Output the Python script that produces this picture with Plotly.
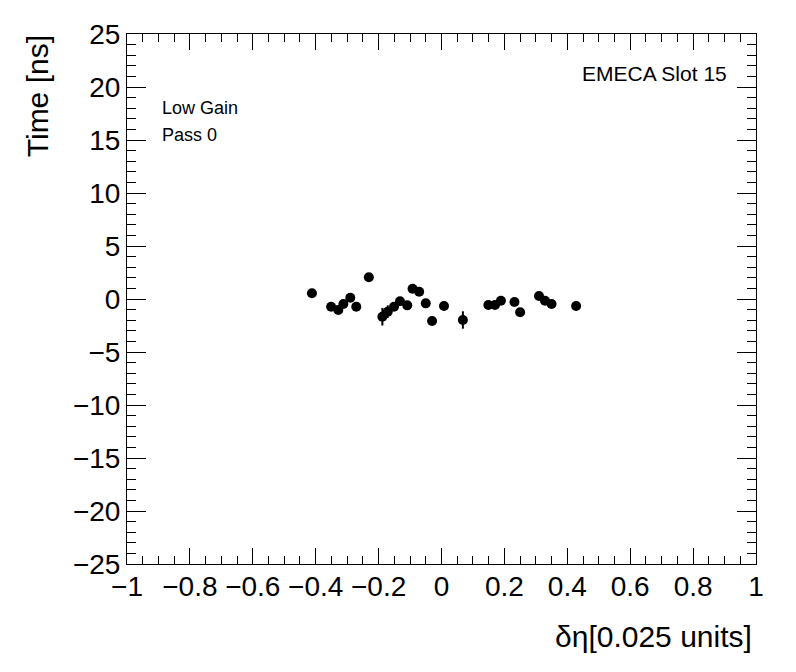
import plotly.graph_objects as go

deta = [-0.412, -0.351, -0.328, -0.312, -0.290, -0.271, -0.231, -0.188, -0.171,
        -0.151, -0.132, -0.109, -0.092, -0.071, -0.050, -0.030, 0.008, 0.068,
        0.149, 0.170, 0.189, 0.232, 0.250, 0.310, 0.329, 0.350, 0.428]
time_ns = [0.54, -0.73, -1.04, -0.47, 0.12, -0.73, 2.05, -1.67, -1.20,
           -0.73, -0.22, -0.60, 0.97, 0.69, -0.41, -2.08, -0.66, -1.98,
           -0.57, -0.57, -0.16, -0.28, -1.25, 0.28, -0.16, -0.47, -0.66]
time_err = [0.3, 0.3, 0.3, 0.3, 0.3, 0.3, 0.3, 0.83, 0.6,
            0.3, 0.3, 0.3, 0.3, 0.3, 0.3, 0.3, 0.3, 0.82,
            0.3, 0.3, 0.3, 0.3, 0.3, 0.3, 0.3, 0.3, 0.3]

x_ticks = [-1, -0.8, -0.6, -0.4, -0.2, 0, 0.2, 0.4, 0.6, 0.8, 1]
x_labels = ["\u22121", "\u22120.8", "\u22120.6", "\u22120.4", "\u22120.2", "0",
            "0.2", "0.4", "0.6", "0.8", "1"]
y_ticks = [-25, -20, -15, -10, -5, 0, 5, 10, 15, 20, 25]
y_labels = ["\u221225", "\u221220", "\u221215", "\u221210", "\u22125", "0",
            "5", "10", "15", "20", "25"]

FONT = "Liberation Sans, Arial, Helvetica, sans-serif"

fig = go.Figure()
fig.add_trace(go.Scatter(
    x=deta, y=time_ns, mode="markers",
    marker=dict(color="black", size=10),
    error_y=dict(type="data", array=time_err, color="black", thickness=2, width=0),
    showlegend=False,
))

axis_common = dict(
    showgrid=False, zeroline=False, showline=True, linecolor="black", linewidth=1,
    ticks="inside", tickcolor="black", tickwidth=1, mirror="allticks",
    automargin=False,
    tickfont=dict(family=FONT, size=28, color="black"),
)

fig.update_xaxes(
    range=[-1, 1], tickvals=x_ticks, ticktext=x_labels, ticklen=16,
    ticklabelstandoff=-3,
    minor=dict(dtick=0.05, ticks="inside", ticklen=8, tickcolor="black", showgrid=False),
    **axis_common,
)
fig.update_yaxes(
    range=[-25, 25], tickvals=y_ticks, ticktext=y_labels, ticklen=19,
    minor=dict(dtick=1, ticks="inside", ticklen=9, tickcolor="black", showgrid=False),
    **axis_common,
)

fig.update_layout(
    width=796, height=672,
    margin=dict(l=119, r=48, t=26, b=116),
    paper_bgcolor="white", plot_bgcolor="white",
    font=dict(family=FONT, color="black"),
    annotations=[
        dict(text="Time [ns]", xref="paper", yref="paper", x=-0.141, y=1.002,
             xanchor="center", yanchor="top", textangle=-90, showarrow=False,
             font=dict(size=30, family=FONT)),
        dict(text="\u03b4\u03b7[0.025 units]", xref="paper", yref="paper", x=0.997, y=-0.136,
             xanchor="right", yanchor="middle", showarrow=False,
             font=dict(size=30, family=FONT)),
        dict(text="Low Gain", xref="paper", yref="paper", x=0.0525, y=0.860,
             xanchor="left", yanchor="middle", showarrow=False,
             font=dict(size=18, family=FONT)),
        dict(text="Pass 0", xref="paper", yref="paper", x=0.0525, y=0.809,
             xanchor="left", yanchor="middle", showarrow=False,
             font=dict(size=18, family=FONT)),
        dict(text="EMECA Slot 15", xref="paper", yref="paper", x=0.957, y=0.926,
             xanchor="right", yanchor="middle", showarrow=False,
             font=dict(size=21, family=FONT)),
    ],
)

fig.write_html("out.html")
